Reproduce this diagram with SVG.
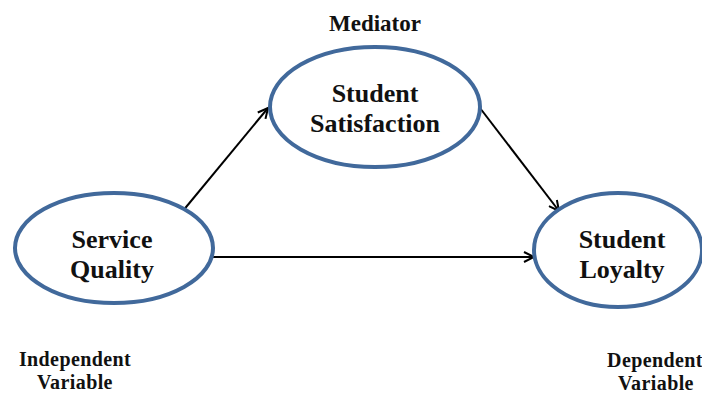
<svg xmlns="http://www.w3.org/2000/svg" width="702" height="395" viewBox="0 0 702 395">
<defs>
<style>
.node{fill:#fff;stroke:#41699b;stroke-width:4}
.t{font-family:"Liberation Serif","Times New Roman",serif;font-weight:bold;text-anchor:middle;fill:#111}
.big{font-size:26px}
.med{font-size:23px}
.sm{font-size:20px;letter-spacing:0.4px}
.c{stroke:#000;stroke-width:2;fill:none;marker-end:url(#ah)}
</style>
<marker id="ah" viewBox="0 0 12 12" refX="11" refY="6" markerWidth="12" markerHeight="12" markerUnits="userSpaceOnUse" orient="auto">
<path d="M1,1 L11,6 L1,11" fill="none" stroke="#000" stroke-width="2"/>
</marker>
</defs>
<rect width="702" height="395" fill="#fff"/>
<g id="connectors">
<line class="c" x1="182" y1="212" x2="268" y2="108"/>
<line class="c" x1="480" y1="108" x2="559" y2="211"/>
<line class="c" x1="213" y1="257" x2="534" y2="257"/>
</g>
<g id="mediator">
<ellipse class="node" cx="375" cy="107" rx="105" ry="60"/>
<text class="t med" x="375" y="31">Mediator</text>
<text class="t big" x="375" y="102">Student</text>
<text class="t big" x="375" y="132">Satisfaction</text>
</g>
<g id="service-quality">
<ellipse class="node" cx="114" cy="248" rx="99" ry="55"/>
<text class="t big" x="112" y="248">Service</text>
<text class="t big" x="112" y="278">Quality</text>
</g>
<g id="student-loyalty">
<ellipse class="node" cx="618" cy="250" rx="84" ry="57"/>
<text class="t big" x="622" y="248">Student</text>
<text class="t big" x="622" y="278">Loyalty</text>
</g>
<g id="independent-label">
<text class="t sm" x="75" y="366">Independent</text>
<text class="t sm" x="75" y="389">Variable</text>
</g>
<g id="dependent-label">
<text class="t sm" x="655" y="367">Dependent</text>
<text class="t sm" x="656" y="390">Variable</text>
</g>
</svg>
